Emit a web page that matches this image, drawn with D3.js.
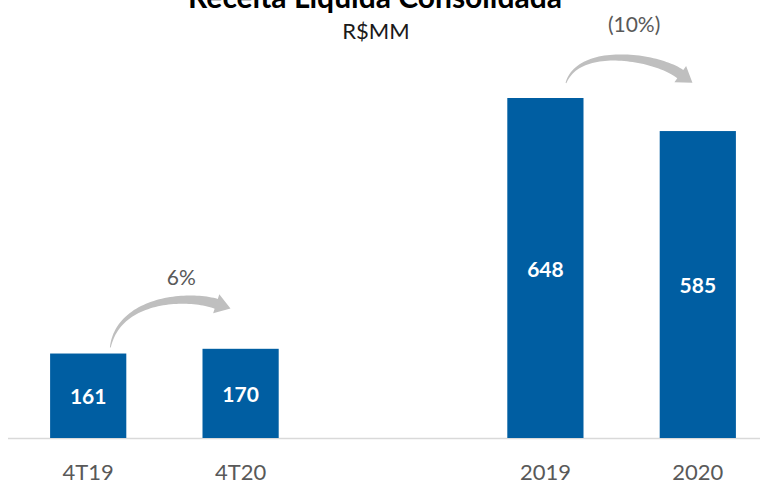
<!DOCTYPE html>
<html>
<head>
<meta charset="utf-8">
<script src="https://cdn.jsdelivr.net/npm/d3@7/dist/d3.min.js"></script>
<style>
  html, body { margin: 0; padding: 0; background: #fff; }
  svg { display: block; }
</style>
</head>
<body>
<svg id="chart" width="760" height="484"></svg>
<script>
// ---- data ----
const categories = ["4T19", "4T20", "", "2019", "2020"];
const barCategories = ["4T19", "4T20", "2019", "2020"];
const values = [161, 170, 648, 585];
const tickLabels = ["4T19", "4T20", "2019", "2020"];
const changeFrom = ["4T19", "2019"];
const changeTo = ["4T20", "2020"];
const changeLabels = ["6%", "(10%)"];
const titleText = "Receita Líquida Consolidada";
const subtitleText = "R$MM";

// ---- layout ----
const W = 760, H = 484;
const baseY = 438;
const svg = d3.select("#chart");

const x = d3.scaleBand().domain(categories).range([12, 774]).paddingInner(0.5).paddingOuter(0.25);
const y = d3.scaleLinear().domain([0, 648]).range([baseY, 98]);
const bw = x.bandwidth();
const valueOf = c => values[barCategories.indexOf(c)];

// title (partly above the top edge, as in the reference)
svg.append("text").attr("x", 375).attr("y", 8).attr("text-anchor", "middle")
  .attr("font-family", "Lato, sans-serif").attr("font-weight", "bold").attr("font-size", 30)
  .attr("fill", "#000").text(titleText);
svg.append("text").attr("x", 376).attr("y", 39).attr("text-anchor", "middle")
  .attr("font-family", "Lato, sans-serif").attr("font-size", 22)
  .attr("fill", "#1a1a1a").text(subtitleText);

// baseline
svg.append("line").attr("x1", 8).attr("x2", 760).attr("y1", baseY + 0.5).attr("y2", baseY + 0.5)
  .attr("stroke", "#d9d9d9").attr("stroke-width", 1.5);

// bars
svg.selectAll("rect.bar").data(barCategories).join("rect").attr("class", "bar")
  .attr("x", d => x(d)).attr("width", bw)
  .attr("y", d => y(valueOf(d))).attr("height", d => baseY - y(valueOf(d)))
  .attr("fill", "#005ea2");

// value labels
svg.selectAll("text.val").data(barCategories).join("text").attr("class", "val")
  .attr("x", d => x(d) + bw / 2)
  .attr("y", d => (y(valueOf(d)) + baseY) / 2 + 1)
  .attr("dy", "0.36em").attr("text-anchor", "middle")
  .attr("font-family", "Lato, sans-serif").attr("font-weight", "bold").attr("font-size", 21)
  .attr("fill", "#fff").text(d => valueOf(d));

// x axis labels
const xAxis = d3.axisBottom(x).tickValues(barCategories).tickSize(0).tickPadding(0)
  .tickFormat(d => tickLabels[barCategories.indexOf(d)]);
const gx = svg.append("g").attr("transform", `translate(0,${baseY})`).call(xAxis);
gx.select(".domain").remove();
gx.selectAll("text").attr("y", 42).attr("dy", 0)
  .attr("font-family", "Lato, sans-serif").attr("font-size", 22).attr("fill", "#595959");

// curved arrows
const arrowCfg = [
  { s: [0.79, -6], e: [0.18, -45], c1: [8, -48], c2: [-31, -10], lab: [18, -19] },
  { s: [0.77, -15], e: [0.27, -57], c1: [13, -38], c2: [-25, -18], lab: [11, -42] }
];
function cubic(p0, p1, p2, p3, t) {
  const u = 1 - t;
  return [
    u*u*u*p0[0] + 3*u*u*t*p1[0] + 3*u*t*t*p2[0] + t*t*t*p3[0],
    u*u*u*p0[1] + 3*u*u*t*p1[1] + 3*u*t*t*p2[1] + t*t*t*p3[1]
  ];
}
function cubicD(p0, p1, p2, p3, t) {
  const u = 1 - t;
  return [
    3*u*u*(p1[0]-p0[0]) + 6*u*t*(p2[0]-p1[0]) + 3*t*t*(p3[0]-p2[0]),
    3*u*u*(p1[1]-p0[1]) + 6*u*t*(p2[1]-p1[1]) + 3*t*t*(p3[1]-p2[1])
  ];
}
changeFrom.forEach((from, i) => {
  const to = changeTo[i], cfg = arrowCfg[i];
  const S = [x(from) + bw * cfg.s[0], y(valueOf(from)) + cfg.s[1]];
  const E = [x(to) + bw * cfg.e[0], y(valueOf(to)) + cfg.e[1]];
  const C1 = [S[0] + cfg.c1[0], S[1] + cfg.c1[1]];
  const C2 = [E[0] + cfg.c2[0], E[1] + cfg.c2[1]];
  const N = 50, left = [], right = [];
  for (let k = 0; k <= N; k++) {
    const t = k / N;
    const p = cubic(S, C1, C2, E, t);
    const d = cubicD(S, C1, C2, E, t);
    const len = Math.hypot(d[0], d[1]);
    const n = [-d[1] / len, d[0] / len];
    const w = (0.8 + 9.5 * Math.pow(t, 0.8)) / 2;
    left.push([p[0] + n[0] * w, p[1] + n[1] * w]);
    right.push([p[0] - n[0] * w, p[1] - n[1] * w]);
  }
  const dE = cubicD(S, C1, C2, E, 1);
  const lE = Math.hypot(dE[0], dE[1]);
  const dir = [dE[0] / lE, dE[1] / lE];
  const nE = [-dir[1], dir[0]];
  const hw = 10, hl = 15;
  const tip = [E[0] + dir[0] * hl, E[1] + dir[1] * hl];
  const h1 = [E[0] + nE[0] * hw, E[1] + nE[1] * hw];
  const h2 = [E[0] - nE[0] * hw, E[1] - nE[1] * hw];
  const pts = left.concat([h1, tip, h2]).concat(right.reverse());
  svg.append("path").attr("d", d3.line()(pts) + "Z").attr("fill", "#bfbfbf");

  svg.append("text").attr("x", (S[0] + E[0]) / 2 + cfg.lab[0]).attr("y", E[1] + cfg.lab[1])
    .attr("text-anchor", "middle").attr("font-family", "Lato, sans-serif").attr("font-size", 21)
    .attr("fill", "#595959").text(changeLabels[i]);
});
</script>
</body>
</html>
